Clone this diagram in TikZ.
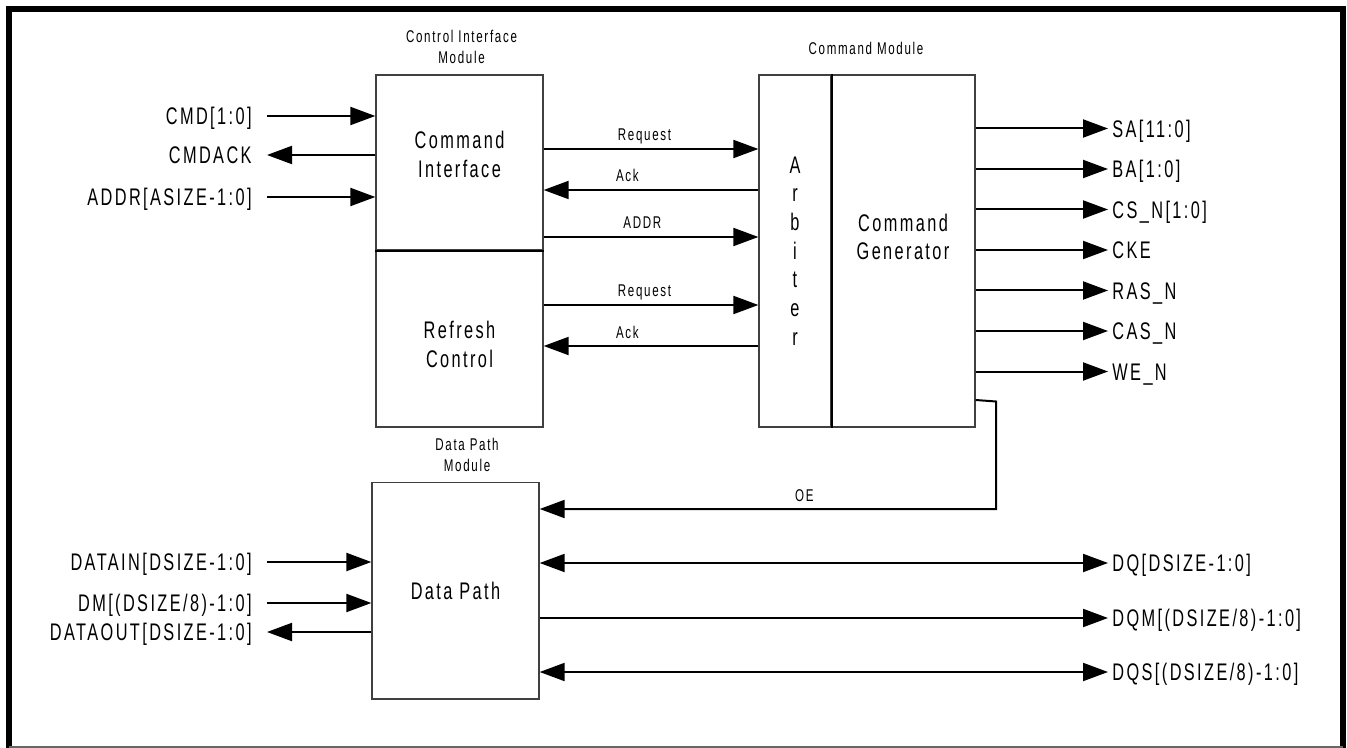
\documentclass[tikz,border=0pt]{standalone}
\usepackage{fontspec}
\setmainfont{Liberation Sans}
\newfontfamily\narrowsans[FakeStretch=0.68,LetterSpace=10]{Liberation Sans}
\newcommand\pinfont{\narrowsans\fontsize{12}{14.35}\selectfont}
\newcommand\tagfont{\narrowsans\fontsize{8.5}{10.5}\selectfont}
\usetikzlibrary{arrows.meta}
\tikzset{
    blk/.style={rectangle, draw=black!75, line width=0.65pt, inner sep=0pt, align=center, font=\pinfont},
    boxtext/.style={font=\pinfont, align=center},
    sig/.style={-{Triangle[length=12.5pt,width=9pt]}, line width=1pt},
    bisig/.style={{Triangle[length=12.5pt,width=9pt]}-{Triangle[length=12.5pt,width=9pt]}, line width=1pt},
    pin/.style={font=\pinfont, text height=8.6pt, text depth=0pt},
    tag/.style={font=\tagfont, anchor=base, yshift=4pt},
    title/.style={font=\tagfont, align=center}
}
\begin{document}
\begin{tikzpicture}[x=0.5pt, y=-0.5pt]
    \useasboundingbox (0,0) rectangle (1347,748);
    \draw[line width=3pt] (9,748) -- (9,9.5) -- (1343,9.5) -- (1343,748);
    \draw[black!60, line width=0.8pt] (9,747) -- (1343,747);

    \node[title] (cimod) at (461.5,46.5) {Control Interface\\Module};
    \node[title] (cmdmod) at (866,48) {Command Module};
    \node[title] (dpmod) at (467,454.5) {Data Path\\Module};

    \node[blk, minimum width=83.5pt, minimum height=87.5pt, label={[boxtext, yshift=4pt]center:Command\\Interface}] (cmdif) at (459.5,162.5) {};
    \node[blk, minimum width=83.5pt, minimum height=88.5pt, label={[boxtext, yshift=-3pt]center:Refresh\\Control}] (refresh) at (459.5,338.5) {};
    \node[blk, minimum width=36pt, minimum height=176pt] (arbiter) at (795,251) {A\\r\\b\\i\\t\\e\\r};
    \node[blk, minimum width=72pt, minimum height=176pt, label={[boxtext, yshift=7pt]center:Command\\Generator}] (cmdgen) at (903,251) {};
    \node[blk, minimum width=83.5pt, minimum height=108.25pt] (datapath) at (455.5,590.75) {Data Path};
    \draw[line width=1.1pt] (cmdif.south west) -- (cmdif.south east);
    \draw[line width=1pt] (arbiter.north east) -- (arbiter.south east);

    \node[pin, anchor=east, inner xsep=7.5pt] (cmdin) at (267,116) {CMD[1:0]};
    \node[pin, anchor=east, inner xsep=7.5pt] (cmdack) at (267,155) {CMDACK};
    \node[pin, anchor=east, inner xsep=7.5pt] (addrin) at (267,197) {ADDR[ASIZE-1:0]};
    \node[pin, anchor=east, inner xsep=7.5pt] (datain) at (267,562) {DATAIN[DSIZE-1:0]};
    \node[pin, anchor=east, inner xsep=7.5pt] (dmin) at (267,603) {DM[(DSIZE/8)-1:0]};
    \node[pin, anchor=east, inner xsep=7.5pt] (dataout) at (267,632) {DATAOUT[DSIZE-1:0]};
    \draw[sig] (cmdin.east) -- (cmdif.west |- cmdin.east);
    \draw[sig] (cmdif.west |- cmdack.east) -- (cmdack.east);
    \draw[sig] (addrin.east) -- (cmdif.west |- addrin.east);
    \draw[sig] (datain.east) -- (datapath.west |- datain.east);
    \draw[sig] (dmin.east) -- (datapath.west |- dmin.east);
    \draw[sig] (datapath.west |- dataout.east) -- (dataout.east);

    \draw[sig] (cmdif.east |- 0,149) -- node[tag, pos=0.47] (reqci) {Request} (arbiter.west |- 0,149);
    \draw[sig] (arbiter.west |- 0,190) -- node[tag, pos=0.61] (ackci) {Ack} (cmdif.east |- 0,190);
    \draw[sig] (cmdif.east |- 0,237) -- node[tag, pos=0.46] (addrci) {ADDR} (arbiter.west |- 0,237);
    \draw[sig] (refresh.east |- 0,305) -- node[tag, pos=0.47] (reqrf) {Request} (arbiter.west |- 0,305);
    \draw[sig] (arbiter.west |- 0,346) -- node[tag, pos=0.61] (ackrf) {Ack} (refresh.east |- 0,346);

    \foreach \y/\nm/\txt in {128.5/sa/SA[11:0], 169/ba/BA[1:0], 209.5/csn/CS\_N[1:0], 250/cke/CKE, 290.5/rasn/RAS\_N, 331/casn/CAS\_N, 371.5/wen/WE\_N}{
        \node[pin, anchor=west, inner xsep=2pt] (\nm) at (1108,\y) {\txt};
        \draw[sig] (cmdgen.east |- \nm.west) -- (\nm.west);
    }

    \coordinate (oebend) at (996,401.5);
    \draw[sig] (cmdgen.east |- 0,400) -- (oebend) |- node[tag, pos=0.71] (oelbl) {OE} (datapath.east |- 0,509);

    \node[pin, anchor=west, inner xsep=2pt] (dq) at (1108,563) {DQ[DSIZE-1:0]};
    \node[pin, anchor=west, inner xsep=2pt] (dqm) at (1108,618) {DQM[(DSIZE/8)-1:0]};
    \node[pin, anchor=west, inner xsep=2pt] (dqs) at (1108,672) {DQS[(DSIZE/8)-1:0]};
    \draw[bisig] (datapath.east |- dq.west) -- (dq.west);
    \draw[sig] (datapath.east |- dqm.west) -- (dqm.west);
    \draw[bisig] (datapath.east |- dqs.west) -- (dqs.west);
\end{tikzpicture}
\end{document}
